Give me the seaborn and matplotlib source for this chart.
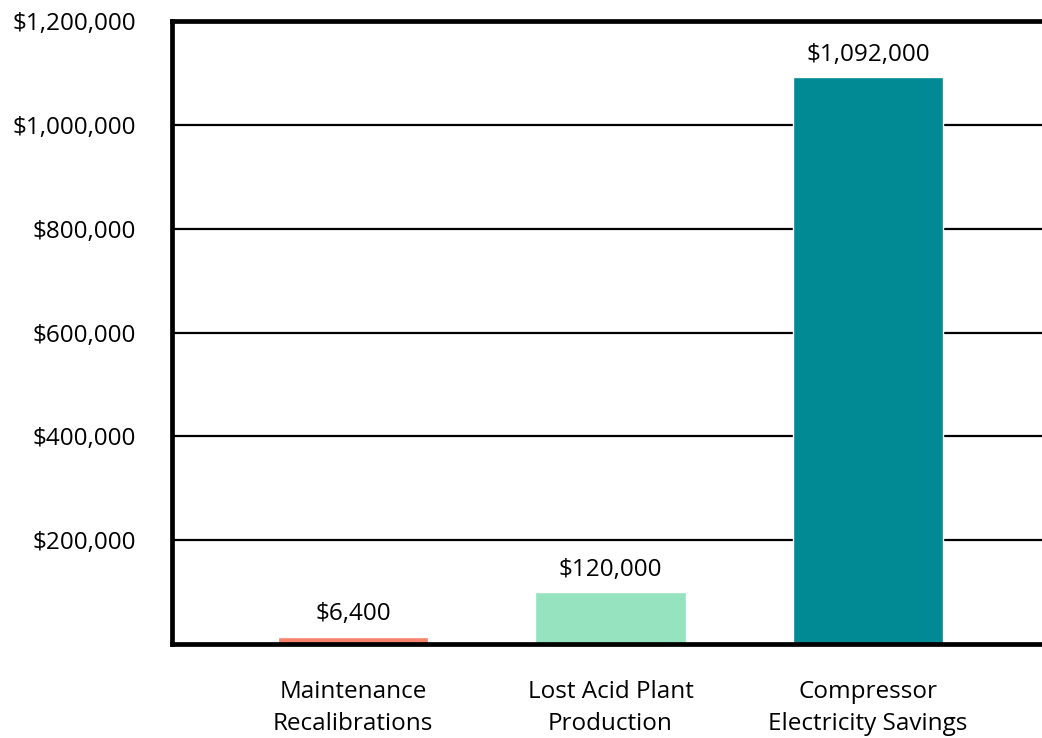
import numpy as np
import pandas as pd
import matplotlib
matplotlib.use("Agg")
import matplotlib.pyplot as plt
import seaborn as sns

# Data
categories = ["Maintenance\nRecalibrations", "Lost Acid Plant\nProduction", "Compressor\nElectricity Savings"]
bar_heights = [14000, 100000, 1092000]  # drawn heights
bar_labels = ["$6,400", "$120,000", "$1,092,000"]
bar_colors = ["#F7836C", "#95E3BF", "#018A94"]
y_ticks = [200000, 400000, 600000, 800000, 1000000, 1200000]

df = pd.DataFrame({"category": categories, "value": bar_heights})

sns.set_style("white")
plt.rcParams["font.family"] = ["Open Sans", "DejaVu Sans"]
plt.rcParams["text.color"] = "black"
plt.rcParams["xtick.color"] = "black"
plt.rcParams["ytick.color"] = "black"

fig = plt.figure(figsize=(10.42, 7.38), dpi=100)
ax = fig.add_axes([0.165, 0.1274, 0.835, 0.8441])

sns.barplot(data=df, x="category", y="value", hue="category", palette=bar_colors,
            width=0.583, legend=False, ax=ax, saturation=1)

ax.set_xlim(-0.703, 2.676)
ax.set_ylim(0, 1200000)

# gridlines
for t in y_ticks:
    ax.axhline(t, color="black", lw=1.6, zorder=0)

ax.set_yticks(y_ticks)
ax.set_yticklabels([f"${t:,.0f}" for t in y_ticks], fontsize=17.5)
ax.tick_params(axis="y", length=0, pad=26)
ax.tick_params(axis="x", length=0, pad=26, labelsize=17.5)
for lbl in ax.get_xticklabels():
    lbl.set_linespacing(1.45)

ax.set_xlabel("")
ax.set_ylabel("")

for side in ["left", "top", "bottom"]:
    ax.spines[side].set_color("black")
    ax.spines[side].set_linewidth(3.4)
    ax.spines[side].set_zorder(5)
ax.spines["right"].set_visible(False)

# value labels over bars
for i, (h, lab) in enumerate(zip(bar_heights, bar_labels)):
    ax.text(i, h + 20000, lab, ha="center", va="bottom", fontsize=17.5)

fig.savefig("out.png", dpi=100)
